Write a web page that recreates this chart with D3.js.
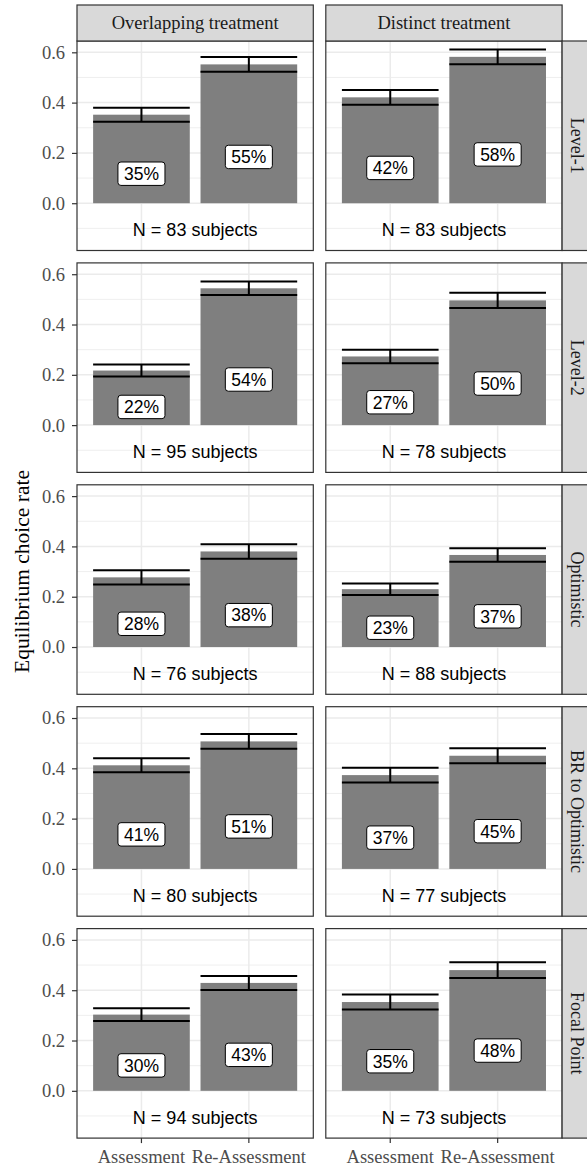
<!DOCTYPE html>
<html>
<head>
<meta charset="utf-8">
<script src="https://cdn.jsdelivr.net/npm/d3@7"></script>
<style>
  body { margin: 0; background: #fff; }
  svg { display: block; }
</style>
</head>
<body>
<svg id="chart" width="587" height="1166"></svg>
<script>
const rows = ['Level-1', 'Level-2', 'Optimistic', 'BR to Optimistic', 'Focal Point'];
const treatments = ['Overlapping treatment', 'Distinct treatment'];
const phases = ['Assessment', 'Re-Assessment'];

// mean equilibrium choice rate, one value per row
const overlapAssess = [0.352, 0.217, 0.277, 0.412, 0.303];
const overlapReassess = [0.552, 0.544, 0.380, 0.507, 0.429];
const distinctAssess = [0.421, 0.273, 0.230, 0.373, 0.353];
const distinctReassess = [0.582, 0.496, 0.366, 0.450, 0.480];

// standard errors (half length of the error bars)
const overlapAssessSE = [0.028, 0.024, 0.028, 0.028, 0.025];
const overlapReassessSE = [0.029, 0.027, 0.029, 0.029, 0.028];
const distinctAssessSE = [0.029, 0.027, 0.023, 0.029, 0.030];
const distinctReassessSE = [0.029, 0.030, 0.027, 0.030, 0.031];

const overlapN = [83, 95, 76, 80, 94];
const distinctN = [83, 78, 88, 77, 73];

const yTicks = [0, 0.2, 0.4, 0.6];
const yMinor = [-0.1, 0.1, 0.3, 0.5];

const serif = '"Liberation Serif", "Times New Roman", serif';
const sans = '"Liberation Sans", Arial, sans-serif';

let panelW = 236.3;
let panelH = 209.5;
let colX = [77, 325.8];
let rowY = rows.map((r, i) => 41 + i * 221.9);

let x = d3.scaleBand()
  .domain(phases)
  .range([0, panelW])
  .paddingInner(0.1)
  .paddingOuter(0.15);

let y = d3.scaleLinear()
  .domain([-0.188, 0.645])
  .range([panelH, 0]);

let means = [[overlapAssess, overlapReassess], [distinctAssess, distinctReassess]];
let ses = [[overlapAssessSE, overlapReassessSE], [distinctAssessSE, distinctReassessSE]];
let ns = [overlapN, distinctN];

let cells = [];
rows.forEach((r, i) => {
  treatments.forEach((t, j) => {
    cells.push({
      row: i, col: j, n: ns[j][i],
      bars: phases.map((p, k) => ({ phase: p, mean: means[j][k][i], se: ses[j][k][i] }))
    });
  });
});

let svg = d3.select('#chart');

let panels = svg.selectAll('g.panel')
  .data(cells)
  .enter()
  .append('g')
  .attr('class', 'panel')
  .attr('transform', d => `translate(${colX[d.col]},${rowY[d.row]})`);

panels.append('rect')
  .attr('width', panelW)
  .attr('height', panelH)
  .attr('fill', '#fff');

// grid
panels.each(function () {
  let g = d3.select(this);
  g.selectAll('line.minor')
    .data(yMinor)
    .enter()
    .append('line')
    .attr('x1', 0).attr('x2', panelW)
    .attr('y1', d => y(d)).attr('y2', d => y(d))
    .attr('stroke', '#ebebeb')
    .attr('stroke-width', 0.8);
  g.selectAll('line.major')
    .data(yTicks)
    .enter()
    .append('line')
    .attr('x1', 0).attr('x2', panelW)
    .attr('y1', d => y(d)).attr('y2', d => y(d))
    .attr('stroke', '#ebebeb')
    .attr('stroke-width', 1.5);
  g.selectAll('line.vmajor')
    .data(phases)
    .enter()
    .append('line')
    .attr('x1', d => x(d) + x.bandwidth() / 2)
    .attr('x2', d => x(d) + x.bandwidth() / 2)
    .attr('y1', 0).attr('y2', panelH)
    .attr('stroke', '#ebebeb')
    .attr('stroke-width', 1.5);
});

let bars = panels.selectAll('g.bar')
  .data(d => d.bars)
  .enter()
  .append('g')
  .attr('class', 'bar');

bars.append('rect')
  .attr('x', d => x(d.phase))
  .attr('width', x.bandwidth())
  .attr('y', d => y(d.mean))
  .attr('height', d => y(0) - y(d.mean))
  .attr('fill', '#7f7f7f');

// error bars
bars.append('path')
  .attr('d', d => {
    let x0 = x(d.phase), x1 = x0 + x.bandwidth(), xm = x0 + x.bandwidth() / 2;
    let hi = y(d.mean + d.se), lo = y(d.mean - d.se);
    return `M${x0},${hi}H${x1}M${x0},${lo}H${x1}M${xm},${hi}V${lo}`;
  })
  .attr('fill', 'none')
  .attr('stroke', '#000')
  .attr('stroke-width', 2);

// percentage labels
let labels = bars.append('g')
  .attr('transform', d => `translate(${x(d.phase) + x.bandwidth() / 2},${y(d.mean / 3)})`);

labels.append('rect').attr('class', 'box');
labels.append('text')
  .attr('text-anchor', 'middle')
  .attr('dy', '0.36em')
  .style('font-family', sans)
  .style('font-size', '17.5px')
  .text(d => Math.round(d.mean * 100) + '%');

labels.each(function () {
  let g = d3.select(this);
  let w = g.select('text').node().getComputedTextLength() + 12;
  g.select('rect.box')
    .attr('x', -w / 2).attr('y', -11.7)
    .attr('width', w).attr('height', 23.4)
    .attr('rx', 3)
    .attr('fill', '#fff')
    .attr('stroke', '#000')
    .attr('stroke-width', 1);
});

panels.append('text')
  .attr('x', panelW / 2)
  .attr('y', y(-0.105))
  .attr('dy', '0.36em')
  .attr('text-anchor', 'middle')
  .style('font-family', sans)
  .style('font-size', '18px')
  .text(d => `N = ${d.n} subjects`);

panels.append('rect')
  .attr('width', panelW)
  .attr('height', panelH)
  .attr('fill', 'none')
  .attr('stroke', '#333')
  .attr('stroke-width', 1.2);

// y axes on the left column
rows.forEach((r, i) => {
  let ax = svg.append('g')
    .attr('transform', `translate(${colX[0]},${rowY[i]})`)
    .call(d3.axisLeft(y).tickValues(yTicks).tickFormat(d3.format('.1f')).tickSize(5).tickPadding(7));
  ax.select('.domain').remove();
  ax.selectAll('line').attr('stroke', '#333').attr('stroke-width', 1.2);
  ax.selectAll('text')
    .attr('fill', '#4d4d4d')
    .style('font-family', serif)
    .style('font-size', '18.5px');
});

// x axes under the bottom row
treatments.forEach((t, j) => {
  let ax = svg.append('g')
    .attr('transform', `translate(${colX[j]},${rowY[rows.length - 1] + panelH})`)
    .call(d3.axisBottom(x).tickSize(5).tickPadding(6.4));
  ax.select('.domain').remove();
  ax.selectAll('line').attr('stroke', '#333').attr('stroke-width', 1.2);
  ax.selectAll('text')
    .attr('fill', '#4d4d4d')
    .style('font-family', serif)
    .style('font-size', '18.5px');
});

// column strips
treatments.forEach((t, j) => {
  svg.append('rect')
    .attr('x', colX[j]).attr('y', 5)
    .attr('width', panelW).attr('height', 36)
    .attr('fill', '#d9d9d9')
    .attr('stroke', '#333')
    .attr('stroke-width', 1.2);
  svg.append('text')
    .attr('x', colX[j] + panelW / 2)
    .attr('y', 29.3)
    .attr('text-anchor', 'middle')
    .attr('fill', '#1a1a1a')
    .style('font-family', serif)
    .style('font-size', '18.5px')
    .text(t);
});

// row strips
rows.forEach((r, i) => {
  let sx = colX[1] + panelW;
  svg.append('rect')
    .attr('x', sx).attr('y', rowY[i])
    .attr('width', 36).attr('height', panelH)
    .attr('fill', '#d9d9d9')
    .attr('stroke', '#333')
    .attr('stroke-width', 1.2);
  svg.append('text')
    .attr('transform', `translate(${sx + 8.5},${rowY[i] + panelH / 2}) rotate(90)`)
    .attr('text-anchor', 'middle')
    .attr('fill', '#1a1a1a')
    .style('font-family', serif)
    .style('font-size', '18px')
    .text(r);
});

svg.append('text')
  .attr('transform', 'translate(29,571.5) rotate(-90)')
  .attr('text-anchor', 'middle')
  .attr('fill', '#000')
  .style('font-family', serif)
  .style('font-size', '21.5px')
  .text('Equilibrium choice rate');
</script>
</body>
</html>
